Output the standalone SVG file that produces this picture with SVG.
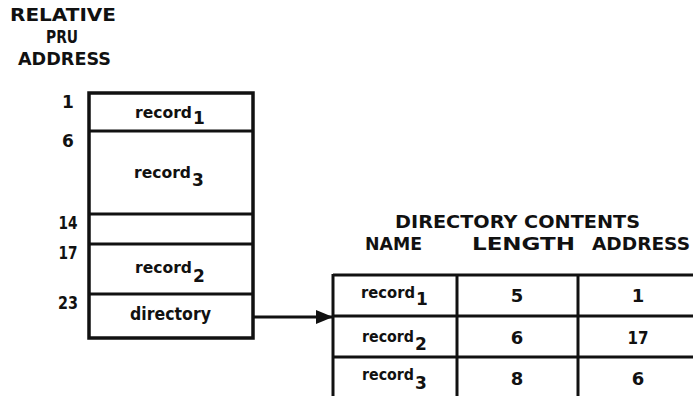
<svg xmlns="http://www.w3.org/2000/svg" width="693" height="396" viewBox="0 0 693 396">
<style>
text{font-family:"DejaVu Sans","Liberation Sans",sans-serif;font-weight:bold;fill:#111;}
.h{font-size:17px;}
.t{font-size:17px;}
.r{font-size:16px;}
.rt{font-size:15px;}
.n{font-size:17px;text-anchor:middle;}
.m{font-size:18px;text-anchor:middle;}
.box{fill:none;stroke:#111;stroke-width:3.5;}
.ln{stroke:#111;stroke-width:3;fill:none;}
</style>
<defs>
<marker id="arr" markerWidth="18" markerHeight="14" refX="17" refY="7" orient="auto" markerUnits="userSpaceOnUse">
<path d="M0,0 L17,7 L0,14 Z" fill="#111"/>
</marker>
</defs>
<g id="header">
<text class="h" x="10" y="21" textLength="106" lengthAdjust="spacingAndGlyphs">RELATIVE</text>
<text class="h" x="46" y="43" textLength="32" lengthAdjust="spacingAndGlyphs">PRU</text>
<text class="h" x="18" y="65" textLength="93" lengthAdjust="spacingAndGlyphs">ADDRESS</text>
</g>
<g id="addresses">
<text class="n" x="68" y="108">1</text>
<text class="n" x="68" y="147">6</text>
<text class="n" x="68" y="229" textLength="19" lengthAdjust="spacingAndGlyphs">14</text>
<text class="n" x="68" y="259" textLength="19" lengthAdjust="spacingAndGlyphs">17</text>
<text class="n" x="68" y="309" textLength="20" lengthAdjust="spacingAndGlyphs">23</text>
</g>
<g id="file">
<rect class="box" x="89" y="93" width="164" height="245"/>
<line class="ln" x1="89" y1="131" x2="253" y2="131"/>
<line class="ln" x1="89" y1="214" x2="253" y2="214"/>
<line class="ln" x1="89" y1="244" x2="253" y2="244"/>
<line class="ln" x1="89" y1="294" x2="253" y2="294"/>
<text class="r" x="135" y="118" textLength="57" lengthAdjust="spacingAndGlyphs">record</text>
<text class="t" x="193" y="124">1</text>
<text class="r" x="134" y="178" textLength="57" lengthAdjust="spacingAndGlyphs">record</text>
<text class="t" x="192" y="186">3</text>
<text class="r" x="135" y="273" textLength="57" lengthAdjust="spacingAndGlyphs">record</text>
<text class="t" x="193" y="282">2</text>
<text class="t" x="130" y="320" textLength="81" lengthAdjust="spacingAndGlyphs">directory</text>
</g>
<g id="connectors">
<line class="ln" x1="253" y1="317" x2="333" y2="317" stroke-width="2.5" marker-end="url(#arr)"/>
</g>
<g id="directory">
<text class="h" x="395" y="228" textLength="245" lengthAdjust="spacingAndGlyphs">DIRECTORY CONTENTS</text>
<text class="h" x="365" y="250" textLength="57" lengthAdjust="spacingAndGlyphs">NAME</text>
<text class="h" x="472" y="250" textLength="103" lengthAdjust="spacingAndGlyphs">LENGTH</text>
<text class="h" x="592" y="250" textLength="98" lengthAdjust="spacingAndGlyphs">ADDRESS</text>
<line class="ln" x1="333" y1="275" x2="693" y2="275" stroke-width="3.5"/>
<line class="ln" x1="333" y1="316" x2="693" y2="316"/>
<line class="ln" x1="333" y1="357" x2="693" y2="357"/>
<line class="ln" x1="333" y1="274" x2="333" y2="396" stroke-width="3.5"/>
<line class="ln" x1="457" y1="274" x2="457" y2="396" stroke-width="3.5"/>
<line class="ln" x1="578" y1="274" x2="578" y2="396" stroke-width="3.5"/>
<text class="rt" x="361" y="298" textLength="54" lengthAdjust="spacingAndGlyphs">record</text>
<text class="t" x="416" y="305">1</text>
<text class="rt" x="362" y="342" textLength="52" lengthAdjust="spacingAndGlyphs">record</text>
<text class="t" x="415" y="350">2</text>
<text class="rt" x="362" y="380" textLength="52" lengthAdjust="spacingAndGlyphs">record</text>
<text class="t" x="415" y="389">3</text>
<text class="m" x="517" y="302">5</text>
<text class="m" x="638" y="302">1</text>
<text class="m" x="517" y="344">6</text>
<text class="m" x="638" y="344" textLength="21" lengthAdjust="spacingAndGlyphs">17</text>
<text class="m" x="517" y="385">8</text>
<text class="m" x="638" y="385">6</text>
</g>
</svg>
